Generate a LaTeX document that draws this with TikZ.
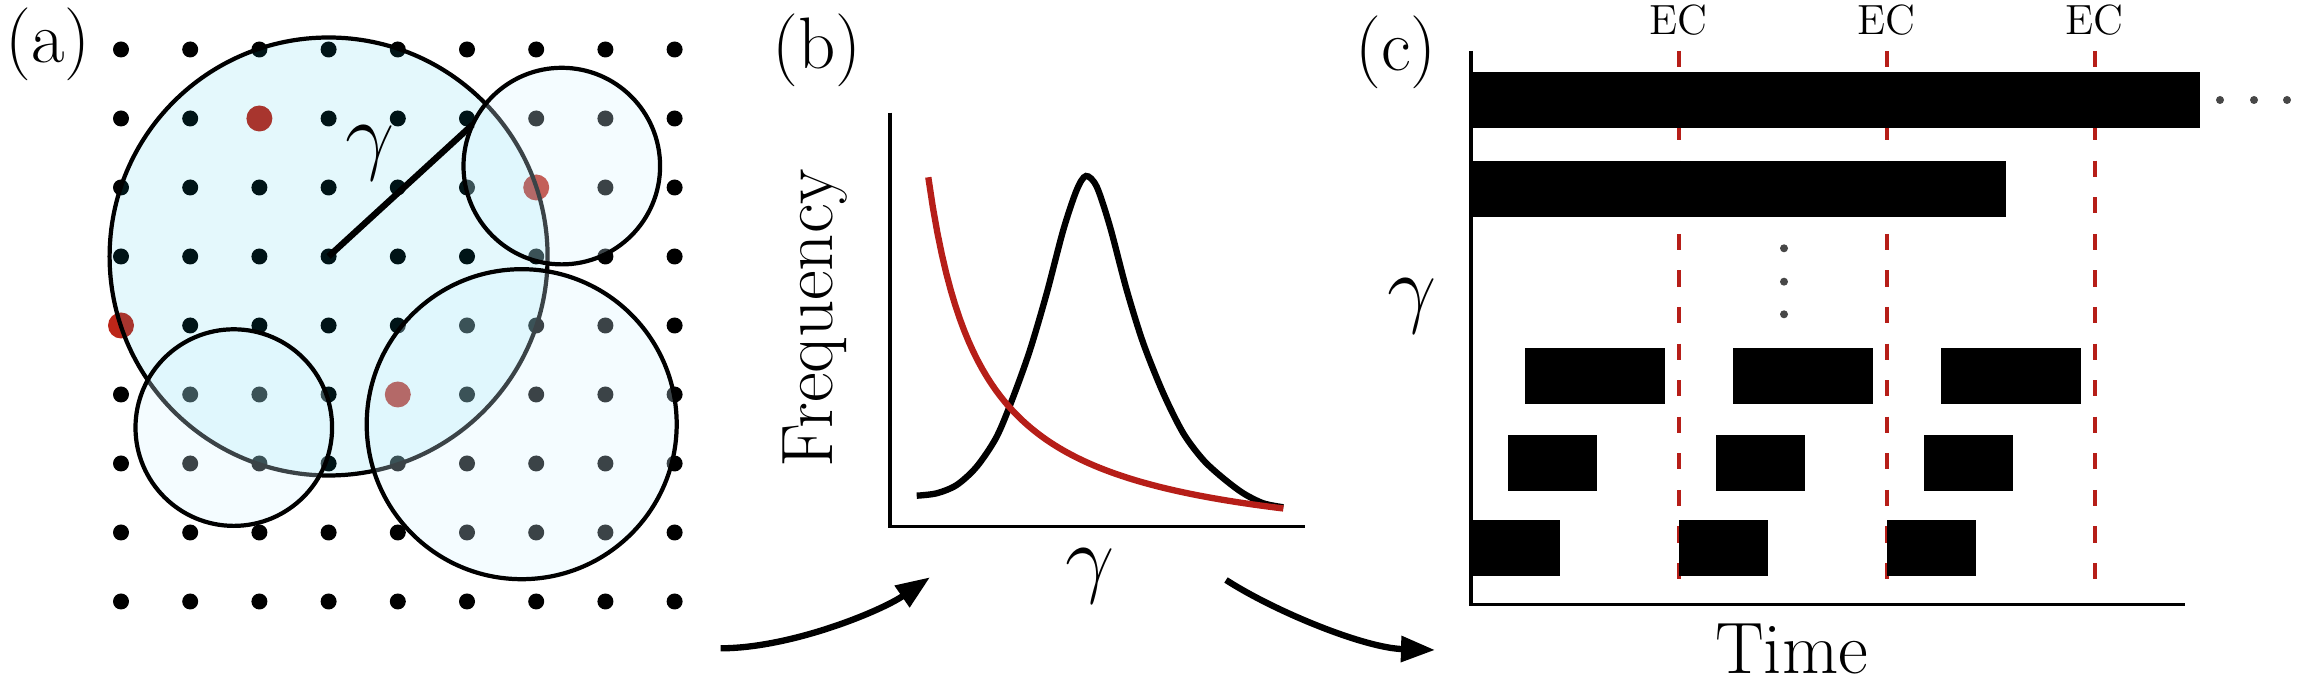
\documentclass[tikz,border=0pt]{standalone}
\usepackage{tikz}
\usetikzlibrary{arrows.meta}
\definecolor{dotred}{RGB}{188,38,25}
\definecolor{curvered}{RGB}{182,30,24}
\definecolor{bigcyan}{RGB}{0,189,226}
\definecolor{smallcyan}{RGB}{214,243,255}

\begin{document}
\begin{tikzpicture}[x=0.01cm,y=-0.01cm,font=\huge,
  >={Triangle[length=3.4mm,width=2.5mm]},
  ball/.style={draw=black,line width=1.2pt,fill=bigcyan,fill opacity=0.106},
  zone/.style={draw=black,line width=1.2pt,fill=smallcyan,fill opacity=0.28},
  axis/.style={line width=1pt},
  ecline/.style={curvered,line width=1.1pt,dash pattern=on 4.6pt off 5.8pt},
  bar/.style={fill=black},
  flow/.style={->,line width=1.8pt}]
  \useasboundingbox (0,0) rectangle (2302,683);
  % (a) lattice and balls
  \node (labA) at (48,44) {(a)};
  \foreach \i in {0,...,8}
    \foreach \j in {0,...,8}
      \fill ({121+69.2*\i},{49.5+69*\j}) circle[radius=8];
  \foreach \i/\j in {2/1,0/4,6/2,4/5}
    \fill[dotred] ({121+69.2*\i},{49.5+69*\j}) circle[radius=13];
  \coordinate (ctr) at (328.6,256.5);
  \coordinate (rim) at (472.5,124.7);
  \draw[ball] (ctr) circle[radius=219];
  \draw[line width=1.8pt] (ctr) -- (rim);
  \node[font=\Huge] (gamA) at (370.5,153) {$\gamma$};
  \draw[zone] (561.8,166.1) circle[radius=98.3];
  \draw[zone] (233.8,427.6) circle[radius=98.3];
  \draw[zone] (521.7,424.2) circle[radius=155];
  % (b) distributions
  \node (labB) at (817,50) {(b)};
  \draw[axis] (890,112.7) -- (890,526.7) -- (1305,526.7);
  \draw[line width=1.8pt] plot[smooth] coordinates {(916.7,495.7) (936.7,493.3)
    (956.7,485) (976.7,466.7) (996.7,436.7) (1013.3,396.7) (1030,350)
    (1046.7,293.3) (1063.3,230) (1076.7,190) (1086,176) (1096.7,186.7)
    (1110,226.7) (1126.7,290) (1143.3,343.3) (1163.3,393.3) (1183.3,433.3)
    (1203.3,460) (1223.3,478.3) (1243.3,493.3) (1263.3,503.3) (1283.3,507.3)};
  \draw[curvered,line width=1.8pt,domain=928.3:1283.3,samples=80]
    plot (\x,{558.2-203/((\x-875)/100)});
  \node[rotate=90] (freq) at (814.6,318) {Frequency};
  \node[font=\Huge] (gamB) at (1089.6,576) {$\gamma$};
  % (c) error correction timeline
  \node (labC) at (1396,52.6) {(c)};
  \foreach \k [count=\n] in {0,1,2} {
    \draw[ecline] ({1678.7+208*\k},51) -- ++(0,537);
    \node[font=\large] (ec\n) at ({1678.7+208*\k},20) {EC};
  }
  \fill[bar] (1471,71.7) rectangle (2200,128.3);
  \fill[bar] (1471,160.7) rectangle (2005.7,216.7);
  \foreach \k in {0,1,2} {
    \fill[bar] ({1525+208*\k},348) rectangle ++(140,56);
    \fill[bar] ({1508+208*\k},435) rectangle ++(89,56);
    \fill[bar] ({1471+208*\k},520.5) rectangle ++(89,56);
  }
  \foreach \y in {248.3,281.7,314.3}
    \fill[black!72] (1784,\y) circle[radius=4];
  \foreach \x in {2220,2254,2287}
    \fill[black!72] (\x,100) circle[radius=4];
  \draw[axis] (1471,51) -- (1471,604.3) -- (2185.3,604.3);
  \node[font=\Huge] (gamC) at (1412.5,305.8) {$\gamma$};
  \node[inner sep=0pt] (time) at (1791.5,649) {Time};
  % arrows between panels
  \coordinate (inA) at (720.7,648.3);
  \coordinate (outA) at (930,577.3);
  \coordinate (inB) at (1226,580);
  \coordinate (outB) at (1435,650);
  \draw[flow] (inA) .. controls (790.7,648.3) and (880.8,611.2) .. (outA);
  \draw[flow] (inB) .. controls (1276.4,612.4) and (1365,648) .. (outB);
\end{tikzpicture}
\end{document}
